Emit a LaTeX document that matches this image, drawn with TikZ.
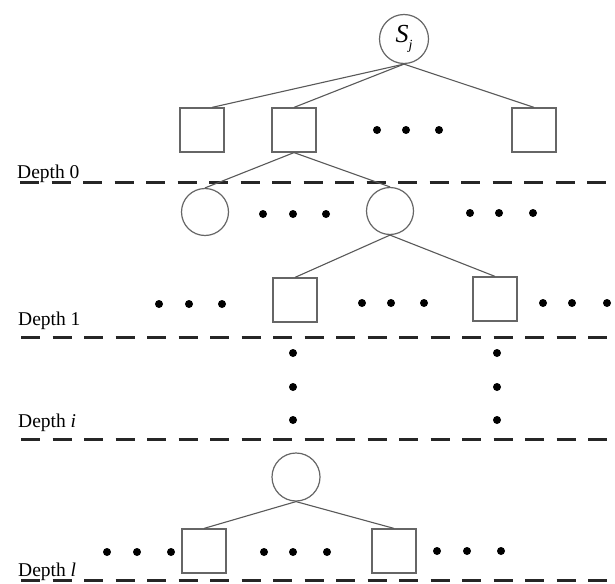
\documentclass[tikz,border=0pt]{standalone}
\usepackage{fontspec}
\setmainfont{Liberation Serif}
\usetikzlibrary{calc}

\begin{document}
\begin{tikzpicture}[x=1pt,y=-1pt,
  sq/.style={draw=black!60, line width=1.2pt, minimum size=44pt, inner sep=0pt},
  nd/.style={circle, draw=black!60, line width=1.2pt, minimum size=47pt, inner sep=0pt},
  edge/.style={draw=black!65, line width=1.1pt},
  level/.style={line width=3pt, black!85, dash pattern=on 19pt off 12.5pt},
  lbl/.style={anchor=base west, inner sep=0pt, font=\fontsize{19.5}{20}\selectfont},
  dot/.style={circle, fill=black, inner sep=0pt, minimum size=8pt}
]
\fill[white] (0,0) rectangle (615,583);
\useasboundingbox (0,0) rectangle (615,583);

% root state
\node[nd, minimum size=49pt] (sj) at (404,39)
  {{\fontsize{26}{26}\selectfont\itshape S}\raisebox{-7pt}{\fontsize{14}{14}\selectfont\itshape j}};

% depth 0: action squares
\node[sq] (a1) at (202,130) {};
\node[sq] (a2) at (294,130) {};
\node[sq] (a3) at (534,130) {};
\node[dot] (ad1) at (377,130) {};
\node[dot] (ad2) at (406,130) {};
\node[dot] (ad3) at (439,130) {};

\draw[edge] (sj.south) -- ($(a1.north)+(10,0)$);
\draw[edge] (sj.south) -- (a2.north);
\draw[edge] (sj.south) -- (a3.north);

% depth separators
\coordinate (l0s) at (20,182);  \coordinate (l0e) at (615,182);
\coordinate (l1s) at (21,337);  \coordinate (l1e) at (615,337);
\coordinate (l2s) at (21,439);  \coordinate (l2e) at (615,439);
\coordinate (l3s) at (21,580);  \coordinate (l3e) at (615,580);
\draw[level] (l0s) -- (l0e);
\draw[level] (l1s) -- (l1e);
\draw[level] (l2s) -- (l2e);
\draw[level] (l3s) -- (l3e);

\node[lbl] (t0) at (17,178) {Depth 0};
\node[lbl] (t1) at (18,325) {Depth 1};
\node[lbl] (t2) at (18,427) {Depth \textit{i}};
\node[lbl] (t3) at (18,576) {Depth \textit{l}};

% successor states
\node[nd] (b1) at (205,212) {};
\node[nd] (b2) at (390,211) {};
\node[dot] (bd1) at (263,214) {};
\node[dot] (bd2) at (293,214) {};
\node[dot] (bd3) at (326,214) {};
\node[dot] (bd4) at (470,213) {};
\node[dot] (bd5) at (499,213) {};
\node[dot] (bd6) at (533,213) {};
\draw[edge] (a2.south) -- (b1.north);
\draw[edge] (a2.south) -- (b2.north);

% depth 1: action squares
\node[sq] (c1) at (295,300) {};
\node[sq] (c2) at (495,299) {};
\draw[edge] (b2.south) -- (c1.north);
\draw[edge] (b2.south) -- (c2.north);
\node[dot] (cd1) at (159,304) {};
\node[dot] (cd2) at (189,304) {};
\node[dot] (cd3) at (222,304) {};
\node[dot] (cd4) at (362,303) {};
\node[dot] (cd5) at (391,303) {};
\node[dot] (cd6) at (424,303) {};
\node[dot] (cd7) at (543,303) {};
\node[dot] (cd8) at (572,303) {};
\node[dot] (cd9) at (607,303) {};

% vertical ellipses down to depth i
\node[dot] (v1) at (293,353) {};
\node[dot] (v2) at (293,387) {};
\node[dot] (v3) at (293,420) {};
\node[dot] (w1) at (497,353) {};
\node[dot] (w2) at (497,387) {};
\node[dot] (w3) at (497,420) {};

% depth l
\node[nd, minimum size=48pt] (d) at (296,477) {};
\node[sq] (e1) at (204,551) {};
\node[sq] (e2) at (394,551) {};
\draw[edge] (d.south) -- (e1.north);
\draw[edge] (d.south) -- (e2.north);
\node[dot] (ed1) at (107,552) {};
\node[dot] (ed2) at (137,552) {};
\node[dot] (ed3) at (171,552) {};
\node[dot] (ed4) at (264,552) {};
\node[dot] (ed5) at (293,552) {};
\node[dot] (ed6) at (327,552) {};
\node[dot] (ed7) at (437,551) {};
\node[dot] (ed8) at (467,551) {};
\node[dot] (ed9) at (501,551) {};
\end{tikzpicture}
\end{document}
